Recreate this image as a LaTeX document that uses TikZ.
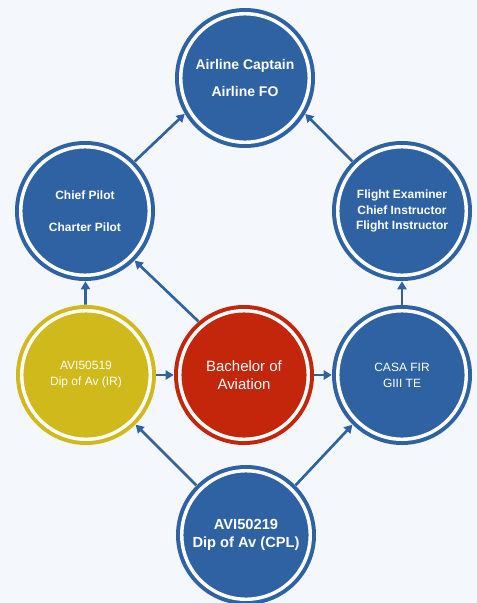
\documentclass[tikz,border=0pt]{standalone}
\usepackage{fontspec}
\setmainfont{Liberation Sans}
\usetikzlibrary{arrows.meta}
\definecolor{ringblue}{RGB}{47,98,163}
\definecolor{ringred}{RGB}{195,38,11}
\definecolor{ringyellow}{RGB}{207,185,27}
\definecolor{pagebg}{RGB}{244,248,253}
\begin{document}
\begin{tikzpicture}[x=0.75pt,y=0.75pt,yscale=-1,xscale=1,
  ring/.style={circle, draw=#1, fill=#1, line width=3pt, double=white, double distance=2.6pt, minimum size=96.4pt, inner sep=0pt, text=white, align=center},
  link/.style={draw=ringblue, line width=2pt, -{Triangle[length=6pt,width=6.8pt]}, shorten >=3pt, shorten <=3pt}]
%set diagram left start at 0, and has height of 603
\fill[pagebg] (0,0) rectangle (477,603);
\useasboundingbox (0,0) rectangle (477,603);

%Shape: Circle [top]
\node[ring=ringblue, font=\bfseries\fontsize{10.5}{20}\selectfont] (captain) at (245,78) {Airline Captain\\Airline FO};
%Shape: Circle [left]
\node[ring=ringblue, font=\bfseries\fontsize{9}{24}\selectfont] (chief) at (85,211) {Chief Pilot\\Charter Pilot};
%Shape: Circle [right]
\node[ring=ringblue, font=\bfseries\fontsize{9}{11.6}\selectfont] (examiner) at (402,211) {Flight Examiner\\Chief Instructor\\Flight Instructor};
%Shape: Circle [middle row]
\node[ring=ringyellow, font=\fontsize{9}{12}\selectfont] (dipir) at (86,375) {AVI50519\\Dip of Av (IR)};
\node[ring=ringred, font=\fontsize{11.2}{13.5}\selectfont] (bachelor) at (244,375) {Bachelor of\\Aviation};
\node[ring=ringblue, font=\fontsize{9}{12}\selectfont] (casa) at (402,375) {CASA FIR\\GIII TE};
%Shape: Circle [bottom]
\node[ring=ringblue, font=\bfseries\fontsize{11}{14}\selectfont] (dipcpl) at (246,535) {AVI50219\\Dip of Av (CPL)};

% Arrows
\draw[link] (chief.45) -- (captain.210);
\draw[link] (examiner.135) -- (captain.330);
\draw[link] (dipir) -- (chief);
\draw[link] (casa) -- (examiner);
\draw[link] (bachelor.130) -- (chief.315);
\draw[link] (dipir) -- (bachelor);
\draw[link] (bachelor) -- (casa);
\draw[link] (dipcpl.135) -- (dipir.315);
\draw[link] (dipcpl.45) -- (casa.225);

\end{tikzpicture}
\end{document}
